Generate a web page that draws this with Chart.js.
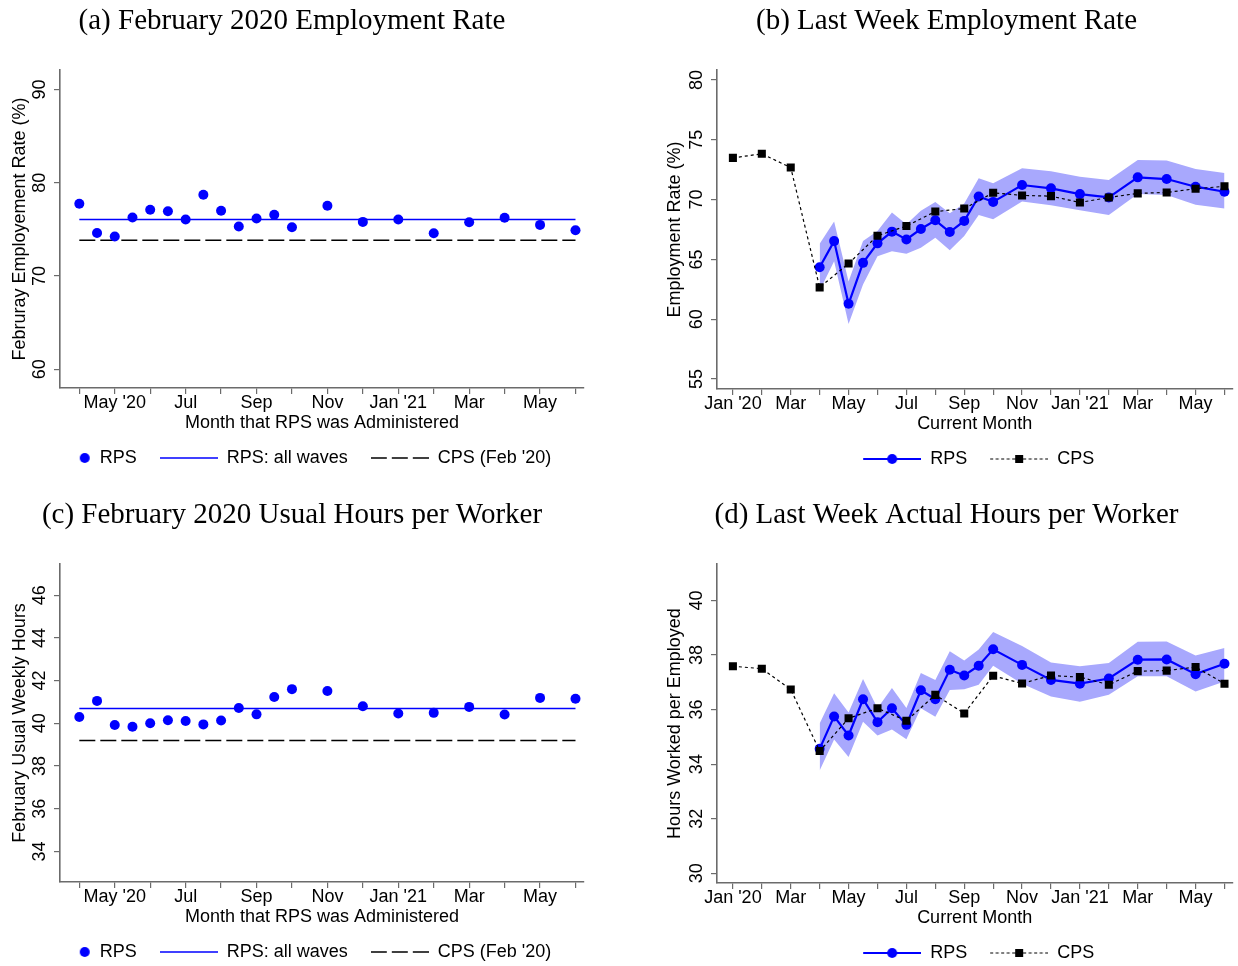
<!DOCTYPE html>
<html><head><meta charset="utf-8">
<script src="https://cdn.jsdelivr.net/npm/chart.js@4/dist/chart.umd.min.js"></script>
<style>
html,body{margin:0;padding:0;background:#fff;overflow:hidden}
#wrap{position:relative;width:1238px;height:966px;overflow:hidden;background:#fff}
canvas{position:absolute}
</style></head><body>
<div id="wrap">
<canvas id="ca" width="592" height="477" style="left:0;top:0"></canvas>
<canvas id="cb" width="583" height="478" style="left:655px;top:0"></canvas>
<canvas id="cc" width="592" height="477" style="left:0;top:494px"></canvas>
<canvas id="cd" width="583" height="478" style="left:655px;top:494px"></canvas>
</div>
<script>
// ---------- DATA ----------
// Panels (a),(c): month the RPS wave was administered (0 = Apr '20)
const waveMonths = [0,0.5,1,1.5,2,2.5,3,3.5,4,4.5,5,5.5,6,7,8,9,10,11,12,13,14];
const waveTickValues = [0,1,2,3,4,5,6,7,8,9,10,11,12,13,14];
const waveTickLabels = ['', "May '20", '', 'Jul', '', 'Sep', '', 'Nov', '', "Jan '21", '', 'Mar', '', 'May', ''];
const febEmpRPS = [77.74,74.62,74.23,76.27,77.10,76.95,76.06,78.71,76.99,75.30,76.16,76.56,75.23,77.53,75.80,76.06,74.59,75.77,76.24,75.48,74.91];
const febEmpAllWaves = 76.06;
const febEmpCPS = 73.84;
const febEmpTicks = [60,70,80,90];
const febHoursRPS = [40.30,41.05,39.92,39.84,40.00,40.14,40.11,39.95,40.13,40.72,40.42,41.23,41.60,41.51,40.80,40.46,40.49,40.77,40.41,41.19,41.15];
const febHoursAllWaves = 40.69;
const febHoursCPS = 39.20;
const febHoursTicks = [34,36,38,40,42,44,46];

// Panels (b),(d): current month (0 = Jan '20)
const cpsMonths = [0,1,2,3,4,5,6,7,8,9,10,11,12,13,14,15,16,17];
const currentTickValues = [0,1,2,3,4,5,6,7,8,9,10,11,12,13,14,15,16,17];
const currentTickLabels = ["Jan '20",'','Mar','','May','','Jul','','Sep','','Nov','',"Jan '21",'','Mar','','May',''];
const rpsMonths = [3,3.5,4,4.5,5,5.5,6,6.5,7,7.5,8,8.5,9,10,11,12,13,14,15,16,17];

const cpsEmp   = [73.49,73.83,72.68,62.66,64.65,66.98,67.79,69.00,69.25,70.57,70.35,70.29,69.76,70.18,70.52,70.60,70.91,71.11];
const rpsEmp   = [64.34,66.53,61.29,64.71,66.34,67.32,66.67,67.54,68.27,67.29,68.22,70.26,69.81,71.22,70.94,70.46,70.18,71.86,71.72,71.08,70.66];
const rpsEmpHi = [66.31,68.16,63.16,66.53,67.37,68.92,67.93,69.06,69.81,68.86,69.67,71.78,71.36,72.62,72.37,71.92,71.64,73.32,73.27,72.56,72.23];
const rpsEmpLo = [62.38,64.85,59.60,62.90,65.27,65.69,65.47,65.97,66.80,65.77,66.95,68.72,68.36,69.84,69.53,69.11,68.72,70.46,70.38,69.56,69.25];
const empTicks = [55,60,65,70,75,80];

const cpsHours   = [37.59,37.50,36.74,34.48,35.68,36.05,35.59,36.54,35.86,37.24,36.96,37.25,37.19,36.91,37.41,37.43,37.56,36.95];
const rpsHours   = [34.56,35.75,35.05,36.38,35.54,36.05,35.44,36.71,36.38,37.46,37.25,37.61,38.21,37.64,37.09,36.95,37.14,37.83,37.84,37.30,37.68];
const rpsHoursHi = [35.49,36.60,35.89,37.12,36.05,36.79,36.06,37.34,37.09,38.14,37.80,38.20,38.85,38.33,37.73,37.59,37.71,38.49,38.50,37.98,38.26];
const rpsHoursLo = [33.77,34.90,34.26,35.55,35.05,35.27,34.91,36.05,35.74,36.72,36.75,36.91,37.61,36.95,36.48,36.29,36.54,37.22,37.22,36.66,37.03];
const hoursTicks = [30,32,34,36,38,40];

// ---------- STYLE ----------
const BLUE = '#0000ff';
const BAND = '#a8a8fd';
const AXIS = '#6b6b6b';
Chart.defaults.font.family = 'Liberation Sans';
Chart.defaults.font.size = 18;
Chart.defaults.color = '#000';

const pts = (xs, ys) => xs.map((x, i) => ({x, y: ys[i]}));

function sym(w, h, draw) {
  const c = document.createElement('canvas');
  c.width = w; c.height = h;
  draw(c.getContext('2d'));
  return c;
}
// legend symbols for (a),(c): box 58 wide, no margin
const SWA = 58;
const symDot = sym(SWA, 12, g => { g.fillStyle = BLUE; g.beginPath(); g.arc(SWA - 6, 6, 5, 0, Math.PI*2); g.fill(); });
const symLine = sym(SWA, 4, g => { g.strokeStyle = BLUE; g.lineWidth = 1.5; g.beginPath(); g.moveTo(0, 2); g.lineTo(SWA, 2); g.stroke(); });
const symDash = sym(SWA, 4, g => { g.strokeStyle = '#000'; g.lineWidth = 1.5; g.setLineDash([16,5]); g.beginPath(); g.moveTo(0, 2); g.lineTo(SWA, 2); g.stroke(); });
// legend symbols for (b),(d): box 66 wide with 8px left margin
const SWB = 66, MB = 8;
const symLineDot = sym(SWB, 12, g => {
  g.strokeStyle = BLUE; g.lineWidth = 2.2; g.beginPath(); g.moveTo(MB, 6); g.lineTo(SWB, 6); g.stroke();
  g.fillStyle = BLUE; g.beginPath(); g.arc(MB + 29, 6, 5, 0, Math.PI*2); g.fill();
});
const symDotSq = sym(SWB, 12, g => {
  g.strokeStyle = '#000'; g.lineWidth = 1.2; g.setLineDash([3,2.5]); g.beginPath(); g.moveTo(MB, 6); g.lineTo(SWB, 6); g.stroke();
  g.fillStyle = '#000'; g.fillRect(MB + 29 - 4, 2, 8, 8);
});

function legendItems(list) {
  return () => list.map((it, i) => ({text: it[0], pointStyle: it[1], fillStyle: '#000', strokeStyle: '#000', lineWidth: 0, hidden: false, datasetIndex: i, fontColor: '#000'}));
}

function scales(o) {
  return {
    x: {
      type: 'linear', min: o.xmin, max: o.xmax,
      afterBuildTicks: s => { s.ticks = o.xticks.map(v => ({value: v})); },
      afterFit: s => { s.height = o.xh; },
      grid: {display: true, drawOnChartArea: false, drawTicks: true, tickLength: 6, color: AXIS, lineWidth: 1.2},
      border: {display: true, color: AXIS, width: 1.6},
      ticks: {autoSkip: false, maxRotation: 0, minRotation: 0, padding: -2, color: '#000', font: {size: 18},
              callback: (v, i) => o.xlabels[i]},
      title: {display: true, text: o.xtitle, color: '#000', font: {size: 18}, padding: {top: 0, bottom: o.xpb}}
    },
    y: {
      type: 'linear', min: o.ymin, max: o.ymax,
      afterBuildTicks: s => { s.ticks = o.yticks.map(v => ({value: v})); },
      afterFit: s => { s.width = o.ywidth; },
      grid: {display: true, drawOnChartArea: false, drawTicks: true, tickLength: 6, color: AXIS, lineWidth: 1.2},
      border: {display: true, color: AXIS, width: 1.6},
      ticks: {autoSkip: false, minRotation: 90, maxRotation: 90, crossAlign: 'center', padding: 4, color: '#000', font: {size: 18},
              callback: v => String(v)},
      title: {display: true, text: o.ytitle, color: '#000', font: {size: 18}, padding: {top: 9.7, bottom: 0}}
    }
  };
}

function plugins(title, legend, fullSize, boxW, pad) {
  return {
    title: {display: true, text: title, color: '#000', font: {family: 'Liberation Serif', size: 29, weight: 'normal'},
            padding: {top: 4.4, bottom: 30.8}},
    legend: {display: true, position: 'bottom', fullSize: fullSize,
             labels: {usePointStyle: true, pointStyleWidth: boxW, padding: pad, color: '#000', font: {size: 18},
                      generateLabels: legendItems(legend)}},
    tooltip: {enabled: false}
  };
}

function febChart(id, title, ytitle, rps, allWaves, cps, o) {
  const x0 = waveMonths[0], x1 = waveMonths[waveMonths.length - 1];
  new Chart(document.getElementById(id), {
    type: 'scatter',
    data: {datasets: [
      {label: 'RPS', data: pts(waveMonths, rps), showLine: false, pointRadius: 5, pointBackgroundColor: BLUE, pointBorderColor: BLUE, pointBorderWidth: 0},
      {label: 'RPS: all waves', data: [{x: x0, y: allWaves}, {x: x1, y: allWaves}], showLine: true, borderColor: BLUE, borderWidth: 1.5, pointRadius: 0},
      {label: "CPS (Feb '20)", data: [{x: x0, y: cps}, {x: x1, y: cps}], showLine: true, borderColor: '#000', borderWidth: 1.5, borderDash: [16,5], pointRadius: 0}
    ]},
    options: {
      responsive: false, animation: false, events: [],
      layout: {padding: {left: 0, right: 8, top: 0, bottom: 0}},
      scales: scales(Object.assign({xmin: -0.545, xmax: 14.24, xticks: waveTickValues, xlabels: waveTickLabels,
                                    xtitle: 'Month that RPS was Administered', ytitle: ytitle, ywidth: 60, xh: 38, xpb: -7.8}, o)),
      plugins: plugins(title, [['RPS', symDot], ['RPS: all waves', symLine], ["CPS (Feb '20)", symDash]], true, SWA, 23)
    }
  });
}

function curChart(id, title, ytitle, cps, rps, hi, lo, o) {
  new Chart(document.getElementById(id), {
    type: 'scatter',
    data: {datasets: [
      {label: 'CPS', data: pts(cpsMonths, cps), showLine: true, borderColor: '#000', borderWidth: 1.2, borderDash: [3,3],
       pointStyle: 'rect', pointRadius: 5.7, pointBackgroundColor: '#000', pointBorderColor: '#000', pointBorderWidth: 0},
      {label: 'RPS', data: pts(rpsMonths, rps), showLine: true, borderColor: BLUE, borderWidth: 2.2,
       pointRadius: 5, pointBackgroundColor: BLUE, pointBorderColor: BLUE, pointBorderWidth: 0},
      {label: 'hi', data: pts(rpsMonths, hi), showLine: true, borderWidth: 0, borderColor: 'rgba(0,0,0,0)', pointRadius: 0, fill: '+1', backgroundColor: BAND},
      {label: 'lo', data: pts(rpsMonths, lo), showLine: true, borderWidth: 0, borderColor: 'rgba(0,0,0,0)', pointRadius: 0, fill: false}
    ]},
    options: {
      responsive: false, animation: false, events: [],
      layout: {padding: {left: 0, right: 0, top: 0, bottom: 0}},
      scales: scales(Object.assign({xmin: -0.55, xmax: 17.27, xticks: currentTickValues, xlabels: currentTickLabels,
                                    xtitle: 'Current Month', ytitle: ytitle, ywidth: 62, xh: 46, xpb: 0}, o)),
      plugins: plugins(title, [['RPS', symLineDot], ['CPS', symDotSq]], false, SWB, 15)
    }
  });
}

febChart('ca', '(a) February 2020 Employment Rate', 'Februray Employement Rate (%)', febEmpRPS, febEmpAllWaves, febEmpCPS,
         {ymin: 58.0, ymax: 92.08, yticks: febEmpTicks});
curChart('cb', '(b) Last Week Employment Rate', 'Employment Rate (%)', cpsEmp, rpsEmp, rpsEmpHi, rpsEmpLo,
         {ymin: 54.16, ymax: 80.84, yticks: empTicks});
febChart('cc', '(c) February 2020 Usual Hours per Worker', 'February Usual Weekly Hours', febHoursRPS, febHoursAllWaves, febHoursCPS,
         {ymin: 32.57, ymax: 47.46, yticks: febHoursTicks});
curChart('cd', '(d) Last Week Actual Hours per Worker', 'Hours Worked per Employed', cpsHours, rpsHours, rpsHoursHi, rpsHoursLo,
         {ymin: 29.64, ymax: 41.34, yticks: hoursTicks});
</script>
</body></html>
